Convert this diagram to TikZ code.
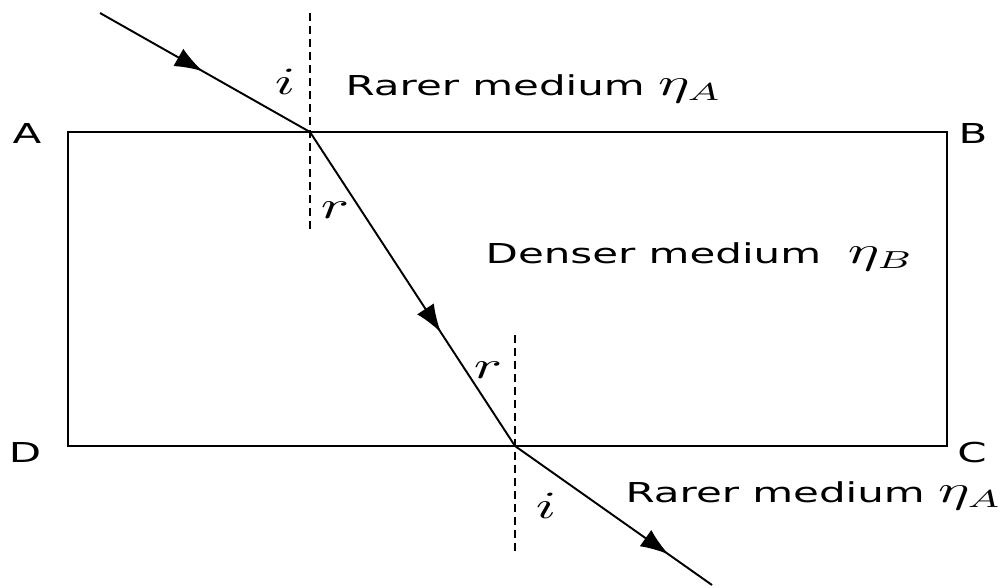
\documentclass[tikz,border=0pt]{standalone}
\usepackage{fontspec}
\setmainfont{DejaVu Sans}
\usepackage{graphicx}
\usetikzlibrary{arrows.meta,decorations.markings}
\newcommand{\wide}[1]{\scalebox{1.53}[1]{#1}}
\newcommand{\refidx}[1]{{\fontsize{10.5}{12}\selectfont$\eta_#1$}}
\tikzset{
  lbl/.style={inner sep=0pt,font=\fontsize{7.8}{9}\selectfont},
  ang/.style={inner sep=0pt,font=\fontsize{11}{12}\selectfont},
  ray/.style={line width=0.55pt,postaction={decorate},
    decoration={markings,mark=at position #1 with {\arrow{Latex[length=2.8mm,width=2mm]}}}},
  normal/.style={line width=0.75pt,dash pattern=on 2.3pt off 1.4pt},
  block/.style={line width=0.65pt}
}
\begin{document}
\begin{tikzpicture}[x=0.01cm,y=-0.01cm]
\useasboundingbox (0,0) rectangle (1003,587);
% glass block
\coordinate (cA) at (68,132);
\coordinate (cC) at (947,446);
\draw[block] (cA) rectangle (cC);
\node[lbl] at (27,133) (lA) {\wide{A}};
\node[lbl] at (973,133) (lB) {\wide{B}};
\node[lbl] at (972,452) (lC) {\wide{C}};
\node[lbl] at (25,452) (lD) {\wide{D}};

% normals
\coordinate (P) at (310,132);
\coordinate (Q) at (515,446);
\coordinate (P1) at (310,13);
\coordinate (P2) at (310,233);
\coordinate (Q1) at (515,335);
\coordinate (Q2) at (515,555);
\draw[normal] (P1) -- (P2);
\draw[normal] (Q1) -- (Q2);

% rays
\coordinate (S) at (100,13);
\coordinate (E) at (712,585);
\draw[ray=0.49] (S) -- (P);
\draw[ray=0.64] (P) -- (Q);
\draw[ray=0.78] (Q) -- (E);

% angles
\node[ang] at (285,82) (ti) {\wide{$i$}};
\node[ang] at (335,210) (tr) {\wide{$r$}};
\node[ang] at (488,370) (br) {\wide{$r$}};
\node[ang] at (546,506) (bi) {\wide{$i$}};

% media
\node[lbl,anchor=base west] at (345,95) (rareTop) {\wide{Rarer medium\ \refidx{A}}};
\node[lbl,anchor=base west] at (485,263) (dense) {\wide{Denser medium\ \ \refidx{B}}};
\node[lbl,anchor=base west] at (625,502) (rareBot) {\wide{Rarer medium\ \refidx{A}}};
\end{tikzpicture}
\end{document}
